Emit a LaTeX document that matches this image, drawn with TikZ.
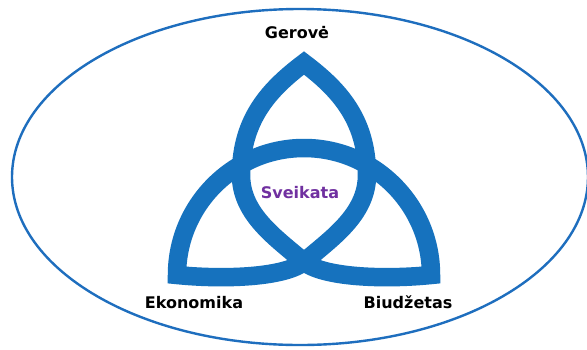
\documentclass[tikz,border=0pt]{standalone}
\usepackage{fontspec}
\setmainfont{DejaVu Sans}
\definecolor{knot}{RGB}{22,114,190}
\definecolor{ring}{RGB}{30,110,190}
\definecolor{purp}{RGB}{112,48,160}
\begin{document}
\begin{tikzpicture}[x=1pt,y=-1pt,
  lbl/.style={font=\bfseries\fontsize{16}{19}\selectfont, anchor=base, inner sep=0pt},
  band/.style={draw=knot, line width=18.5pt, line join=miter, miter limit=10}]
\useasboundingbox (0,0) rectangle (587,349);
\fill[white] (0,0) rectangle (587,349);
\draw[ring, line width=2.4pt] (300,177) ellipse [x radius=288, y radius=168];
\coordinate (T) at (304,63);
\coordinate (R) at (431,275);
\coordinate (L) at (177,275);
\coordinate (X) at (304,262);
\coordinate (WA) at (241,175);
\coordinate (WB) at (367,175);
\coordinate (MC) at (304,148);
\draw[band] (T) .. controls (271,88) and (241,118) .. (WA)
  .. controls (241,215) and (277.6,239) .. (X)
  .. controls (326.7,279) and (392,279) .. (R)
  .. controls (431,205) and (374,148) .. (MC)
  .. controls (234,148) and (177,205) .. (L)
  .. controls (216,279) and (281.3,279) .. (X)
  .. controls (330.4,239) and (367,215) .. (WB)
  .. controls (367,118) and (337,88) .. cycle;
\node[lbl] (ger) at (297,38) {Gerovė};
\node[lbl, text=purp] (sve) at (300,198) {Sveikata};
\node[lbl] (eko) at (194,308) {Ekonomika};
\node[lbl] (biu) at (408,308) {Biudžetas};
\end{tikzpicture}
\end{document}
